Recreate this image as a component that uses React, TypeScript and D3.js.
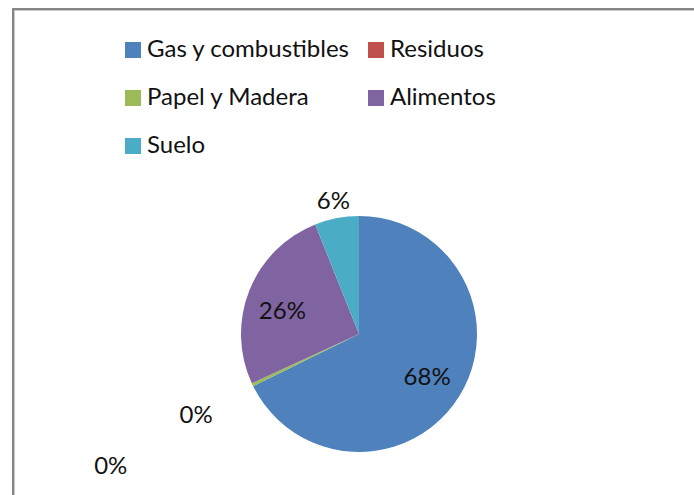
import React, { useEffect, useRef } from 'react';
import * as d3 from 'd3';

const categories = ['Gas y combustibles', 'Residuos', 'Papel y Madera', 'Alimentos', 'Suelo'];
const shares = [67.7, 0, 0.45, 25.8, 6.05];
const labels = ['68%', '0%', '0%', '26%', '6%'];
const colors = ['#4F81BD', '#C0504D', '#9BBB59', '#8064A2', '#4BACC6'];

// label placement: fraction of radius, plus angle nudge in degrees
const labelRadius = [0.68, 1.54, 2.38, 0.68, 1.15];
const labelNudge = [0, 0, -2.4, -4.5, 0];

const WIDTH = 694;
const HEIGHT = 495;
const FONT = 'Lato, "Noto Sans", sans-serif';

const App = () => {
  const ref = useRef<SVGSVGElement>(null);

  useEffect(() => {
    draw();
  });

  const draw = () => {
    const svg = d3.select(ref.current);
    svg.selectAll('*').remove();

    svg.append('rect').attr('width', WIDTH).attr('height', HEIGHT).attr('fill', '#fff');

    // chart area frame (runs off right & bottom)
    svg.append('rect')
      .attr('x', 13).attr('y', 9)
      .attr('width', WIDTH + 20).attr('height', HEIGHT + 20)
      .attr('fill', 'none')
      .attr('stroke', '#868686')
      .attr('stroke-width', 2);
    svg.append('rect')
      .attr('x', 14.5).attr('y', 10.5)
      .attr('width', WIDTH + 20).attr('height', HEIGHT + 20)
      .attr('fill', 'none')
      .attr('stroke', '#c8c8c8')
      .attr('stroke-width', 1);

    // legend
    const legendCols = [125, 368];
    const legendRows = [42, 90, 138];
    const legend = svg.append('g');
    categories.forEach((c, i) => {
      const lx = legendCols[i % 2];
      const ly = legendRows[Math.floor(i / 2)];
      legend.append('rect')
        .attr('x', lx).attr('y', ly)
        .attr('width', 16).attr('height', 16)
        .attr('fill', colors[i]);
      legend.append('text')
        .attr('x', lx + 22).attr('y', ly + 15)
        .attr('font-family', FONT)
        .attr('font-size', 24)
        .attr('fill', '#111')
        .text(c);
    });

    const cx = 359;
    const cy = 334;
    const r = 118;

    const pie = d3.pie<number>().sort(null).value((d) => d);
    const arcs = pie(shares);
    const arc = d3.arc<d3.PieArcDatum<number>>().innerRadius(0).outerRadius(r);

    const g = svg.append('g').attr('transform', `translate(${cx},${cy})`);
    g.selectAll('path.slice')
      .data(arcs)
      .enter()
      .append('path')
      .attr('class', 'slice')
      .attr('d', arc)
      .attr('fill', (d, i) => colors[i]);

    g.selectAll('text.lbl')
      .data(arcs)
      .enter()
      .append('text')
      .attr('class', 'lbl')
      .attr('transform', (d, i) => {
        const nudge = (labelNudge[i] * Math.PI) / 180;
        const moved = { ...d, startAngle: d.startAngle + nudge, endAngle: d.endAngle + nudge };
        const la = d3.arc<d3.PieArcDatum<number>>()
          .innerRadius(r * labelRadius[i])
          .outerRadius(r * labelRadius[i]);
        const [x, y] = la.centroid(moved);
        return `translate(${x},${y})`;
      })
      .attr('text-anchor', 'middle')
      .attr('dy', '0.36em')
      .attr('font-family', FONT)
      .attr('font-size', 24)
      .attr('fill', '#111')
      .text((d, i) => labels[i]);
  };

  return (
    <svg
      ref={ref}
      width={WIDTH}
      height={HEIGHT}
      style={{ position: 'absolute', left: 0, top: 0 }}
    />
  );
};

export default App;
